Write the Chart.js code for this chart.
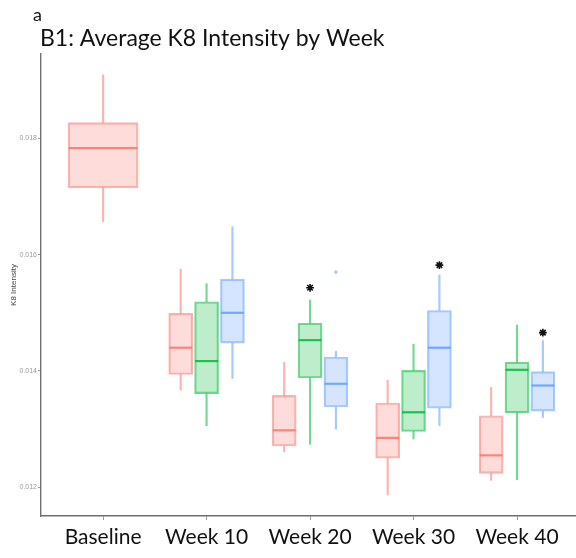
<!DOCTYPE html>
<html>
<head>
<meta charset="utf-8">
<script src="https://cdn.jsdelivr.net/npm/chart.js@4.4.1/dist/chart.umd.min.js"></script>
<style>
  html, body { margin: 0; padding: 0; background: #fff; overflow: hidden; }
  canvas { display: block; }
</style>
</head>
<body>
<canvas id="c" width="576" height="558"></canvas>
<script>
// ---- data ----
const categories = ['Baseline', 'Week 10', 'Week 20', 'Week 30', 'Week 40'];
const yTicks = [0.012, 0.014, 0.016, 0.018];

const redLow  = [0.01657, 0.01367, 0.01261, 0.01187, 0.01212];
const redQ1   = [0.01715, 0.01394, 0.01271, 0.01250, 0.01224];
const redMed  = [0.01783, 0.01440, 0.01298, 0.01285, 0.01255];
const redQ3   = [0.01827, 0.01499, 0.01358, 0.01345, 0.01323];
const redHigh = [0.01909, 0.01575, 0.01415, 0.01384, 0.01372];

const greenLow  = [null, 0.01306, 0.01274, 0.01283, 0.01213];
const greenQ1   = [null, 0.01361, 0.01388, 0.01296, 0.01328];
const greenMed  = [null, 0.01417, 0.01453, 0.01329, 0.01402];
const greenQ3   = [null, 0.01519, 0.01482, 0.01401, 0.01415];
const greenHigh = [null, 0.01550, 0.01522, 0.01446, 0.01479];

const blueLow  = [null, 0.01387, 0.01300, 0.01306, 0.01320];
const blueQ1   = [null, 0.01448, 0.01338, 0.01336, 0.01331];
const blueMed  = [null, 0.01500, 0.01378, 0.01440, 0.01375];
const blueQ3   = [null, 0.01558, 0.01424, 0.01504, 0.01399];
const blueHigh = [null, 0.01648, 0.01434, 0.01565, 0.01452];

const blueOutlierCat = ['Week 20'];
const blueOutlierVal = [0.01570];

const starCat   = ['Week 20', 'Week 30', 'Week 40'];
const starGroup = ['green', 'blue', 'blue'];
const starVal   = [0.01543, 0.01582, 0.01466];

// ---- build ----
const groups = [
  { name: 'red',   rgb: [248, 118, 109], low: redLow,   q1: redQ1,   med: redMed,   q3: redQ3,   high: redHigh,   off: -0.25 },
  { name: 'green', rgb: [0, 186, 56],    low: greenLow, q1: greenQ1, med: greenMed, q3: greenQ3, high: greenHigh, off: 0 },
  { name: 'blue',  rgb: [97, 156, 255],  low: blueLow,  q1: blueQ1,  med: blueMed,  q3: blueQ3,  high: blueHigh,  off: 0.25 }
];
const rgba = (c, a) => `rgba(${c[0]},${c[1]},${c[2]},${a})`;
const xOf = (i, g) => i + 1 + (i === 0 ? 0 : g.off);
const groupByName = Object.fromEntries(groups.map(g => [g.name, g]));

const datasets = [];
groups.forEach(g => {
  const whiskers = [], boxesWide = [], boxes = [], meds = [];
  g.q1.forEach((q1, i) => {
    if (q1 == null) return;
    const x = xOf(i, g);
    whiskers.push({ x, y: [g.low[i], q1] });
    whiskers.push({ x, y: [g.q3[i], g.high[i]] });
    (i === 0 ? boxesWide : boxes).push({ x, y: [q1, g.q3[i]] });
    meds.push({ x, y: g.med[i], wide: i === 0 });
  });
  datasets.push({
    type: 'bar', data: whiskers, grouped: false, order: 4,
    barThickness: 1.5, backgroundColor: rgba(g.rgb, 0.55), borderWidth: 0
  });
  const boxStyle = {
    type: 'bar', grouped: false, order: 3,
    backgroundColor: rgba(g.rgb, 0.26), borderColor: rgba(g.rgb, 0.55),
    borderWidth: 1.5, borderSkipped: false
  };
  if (boxes.length) datasets.push(Object.assign({ data: boxes, barThickness: 24 }, boxStyle));
  if (boxesWide.length) datasets.push(Object.assign({ data: boxesWide, barThickness: 70 }, boxStyle));
  datasets.push({
    type: 'scatter', data: meds, order: 2,
    pointStyle: 'line',
    pointRadius: ctx => (ctx.raw && ctx.raw.wide) ? 34.5 : 11.5,
    pointBorderWidth: 2.2, pointBorderColor: rgba(g.rgb, 0.85),
    pointBackgroundColor: rgba(g.rgb, 0.85)
  });
});

// outliers
datasets.push({
  type: 'scatter', order: 1,
  data: blueOutlierCat.map((c, k) => ({ x: xOf(categories.indexOf(c), groupByName.blue), y: blueOutlierVal[k] })),
  pointStyle: 'circle', pointRadius: 1.9, pointBorderWidth: 0,
  pointBackgroundColor: rgba(groupByName.blue.rgb, 0.5)
});
// significance stars
datasets.push({
  type: 'scatter', order: 0,
  data: starCat.map((c, k) => ({ x: xOf(categories.indexOf(c), groupByName[starGroup[k]]), y: starVal[k] })),
  pointStyle: 'star', pointRadius: 3.9, pointBorderWidth: 1.6,
  pointBorderColor: '#111', pointBackgroundColor: '#111'
});

const titlePlugin = {
  id: 'titles',
  afterDraw(chart) {
    const ctx = chart.ctx;
    ctx.save();
    ctx.fillStyle = '#111';
    ctx.textBaseline = 'alphabetic';
    ctx.textAlign = 'left';
    ctx.font = '18px Lato, "Open Sans", sans-serif';
    ctx.fillText('a', 33, 21);
    ctx.font = '23px Lato, "Open Sans", sans-serif';
    ctx.fillText('B1: Average K8 Intensity by Week', 40, 45.5);
    ctx.restore();
  }
};

const axisGray = '#6f6f6f';
new Chart(document.getElementById('c'), {
  type: 'bar',
  data: { datasets },
  plugins: [titlePlugin],
  options: {
    responsive: false,
    animation: false,
    layout: { autoPadding: false, padding: { top: 54, left: 0, right: 0, bottom: 0 } },
    plugins: { legend: { display: false }, tooltip: { enabled: false }, title: { display: false } },
    scales: {
      x: {
        type: 'linear', min: 0.4, max: 5.57, offset: false,
        afterFit: s => { s.height = 42; s.paddingLeft = 0; s.paddingRight = 0; },
        afterBuildTicks: s => { s.ticks = categories.map((c, i) => ({ value: i + 1 })); },
        ticks: {
          callback: v => categories[Math.round(v) - 1],
          color: '#111', padding: 5, maxRotation: 0, autoSkip: false,
          font: { family: 'Lato, "Open Sans", sans-serif', size: 21 }
        },
        grid: { offset: false, drawOnChartArea: false, drawTicks: true, tickLength: 4, color: '#9a9a9a', lineWidth: 1 },
        border: { display: true, color: axisGray, width: 1.4 }
      },
      y: {
        type: 'linear', min: 0.011507, max: 0.019449,
        afterFit: s => { s.width = 41; s.paddingTop = 0; s.paddingBottom = 0; },
        afterBuildTicks: s => { s.ticks = yTicks.map(v => ({ value: v })); },
        ticks: {
          callback: v => v.toFixed(3),
          color: '#9a9a9a', padding: 1,
          font: { family: '"Liberation Sans", Arial, sans-serif', size: 7 }
        },
        grid: { drawOnChartArea: false, drawTicks: true, tickLength: 3, color: '#9a9a9a', lineWidth: 1 },
        border: { display: true, color: axisGray, width: 1.4 },
        title: {
          display: true, text: 'K8 Intensity', color: '#444',
          padding: { top: 9, bottom: 0 },
          font: { family: '"Liberation Sans", Arial, sans-serif', size: 8 }
        }
      }
    }
  }
});
</script>
</body>
</html>
